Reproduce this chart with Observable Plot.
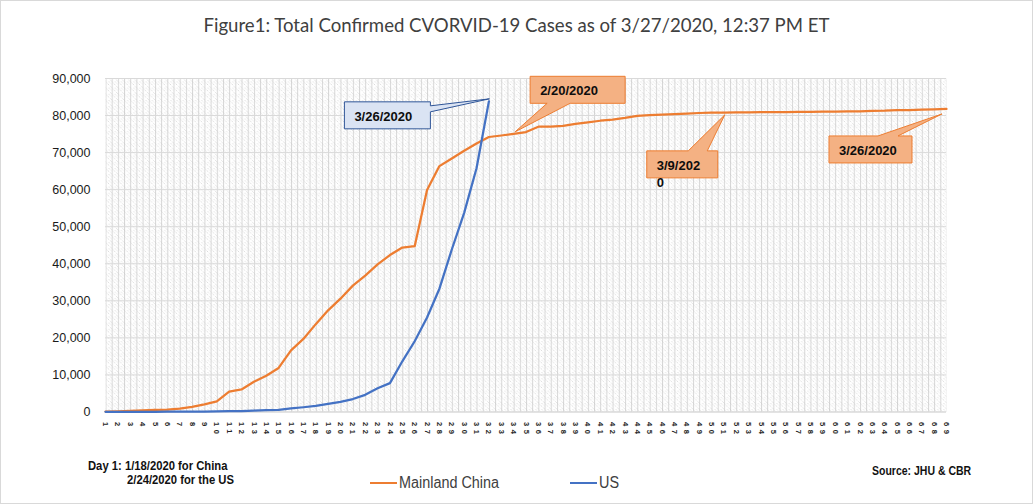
<!DOCTYPE html>
<html>
<head>
<meta charset="utf-8">
<script src="https://cdn.jsdelivr.net/npm/d3@7"></script>
<script src="https://cdn.jsdelivr.net/npm/@observablehq/plot@0.6"></script>
<style>
html,body{margin:0;padding:0;background:#fff;}
#chart{position:relative;width:1033px;height:504px;overflow:hidden;background:#fff;outline:1px solid #d9d9d9;outline-offset:-1px;}
#title{position:absolute;left:0;top:13px;width:1033px;text-align:center;font-family:Lato,"Open Sans",sans-serif;font-size:18.6px;line-height:24px;color:#404040;white-space:nowrap;}
#plot{position:absolute;left:0;top:50px;width:1033px;}
#plot svg{max-width:none;}
.note{position:absolute;font-family:"Liberation Sans Narrow","Liberation Sans",Arial,sans-serif;font-weight:bold;font-size:12.5px;line-height:14px;color:#111;white-space:nowrap;transform-origin:left center;}
.leg{position:absolute;font-family:"Liberation Sans Narrow","Liberation Sans",Arial,sans-serif;font-size:16px;line-height:16px;color:#404040;white-space:nowrap;display:flex;align-items:center;}
.leg i{display:inline-block;width:27px;height:2.5px;margin-right:2px;}
.leg span{display:inline-block;transform:scaleX(0.9);transform-origin:left center;}
</style>
</head>
<body>
<div id="chart">
  <div id="title"></div>
  <div id="plot"></div>
  <div class="note" id="note1" style="left:88px;top:459px;transform:scaleX(0.9)"></div>
  <div class="note" id="note2" style="left:127px;top:473px;transform:scaleX(0.9)"></div>
  <div class="note" id="source" style="left:872px;top:464px;transform:scaleX(0.84)"></div>
  <div class="leg" id="leg0" style="left:370px;top:475px"></div>
  <div class="leg" id="leg1" style="left:570px;top:475px"></div>
</div>
<script>
// ---------- data ----------
const dayLabels = [1,2,3,4,5,6,7,8,9,10,11,12,13,14,15,16,17,18,19,20,21,22,23,24,25,26,27,28,29,30,31,32,33,34,35,36,37,38,39,40,41,42,43,44,45,46,47,48,49,50,51,52,53,54,55,56,57,58,59,60,61,62,63,64,65,66,67,68,69];
const chinaCases = [121,198,291,440,548,643,920,1406,2075,2877,5509,6087,8141,9802,11891,16630,19716,23707,27440,30587,34110,36814,39829,42354,44386,44759,59895,66358,68413,70513,72434,74211,74619,75077,75550,77001,77022,77241,77754,78166,78600,78928,79356,79932,80136,80261,80386,80537,80690,80770,80823,80860,80887,80921,80932,80945,80977,81003,81033,81058,81102,81156,81250,81305,81435,81498,81591,81661,81782];
const usCases = [51,51,57,58,60,68,74,98,118,149,217,262,402,518,583,959,1281,1663,2179,2727,3499,4632,6421,7786,13680,19101,25493,33276,43847,53740,65778,83836];
const yTicks = [0,10000,20000,30000,40000,50000,60000,70000,80000,90000];
const seriesNames = ["Mainland China","US"];
const seriesColors = ["#ed7d31","#4472c4"];
const titleText = "Figure1: Total Confirmed CVORVID-19 Cases as of 3/27/2020, 12:37 PM ET";
const noteLines = ["Day 1: 1/18/2020 for China","2/24/2020  for the US"];
const sourceText = "Source: JHU & CBR";
const calloutSeries = [1,0,0,0];
const calloutDays = [32,34,52,69];
const calloutTexts = [["3/26/2020"],["2/20/2020"],["3/9/202","0"],["3/26/2020"]];

// ---------- layout of callouts (pixel offsets from their data point) ----------
const calloutLayout = [
  {side:"right",  tip:[1,-2],    box:[-144,1,86,27],   base:[5,11],       fill:"#dae3f3", stroke:"#2f5597"},
  {side:"bottom", tip:[2,-1.5],  box:[17,-57,95,27],   base:[34,57],      fill:"#f4b183", stroke:"#ed7d31"},
  {side:"top",    tip:[-11,3],   box:[-89,39,71,27],   base:[-47.5,-28.5],fill:"#f4b183", stroke:"#ed7d31"},
  {side:"top",    tip:[-4,5.5],  box:[-117,27.5,83,27],base:[-68,-48],    fill:"#f4b183", stroke:"#ed7d31"}
];

const seriesData = [chinaCases, usCases];
const tables = seriesData.map((arr, s) => arr.map((v, i) => ({day: dayLabels[i], cases: v, series: seriesNames[s]})));

function calloutMark(k) {
  return (index, scales) => {
    const L = calloutLayout[k];
    const ax = scales.x(calloutDays[k]);
    const ay = scales.y(seriesData[calloutSeries[k]][calloutDays[k] - 1]);
    const tx = ax + L.tip[0], ty = ay + L.tip[1];
    const x0 = ax + L.box[0], y0 = ay + L.box[1], x1 = x0 + L.box[2], y1 = y0 + L.box[3];
    let pts;
    if (L.side === "right") pts = [[x0,y0],[x1,y0],[x1,ay+L.base[0]],[tx,ty],[x1,ay+L.base[1]],[x1,y1],[x0,y1]];
    else if (L.side === "top") pts = [[x0,y0],[ax+L.base[0],y0],[tx,ty],[ax+L.base[1],y0],[x1,y0],[x1,y1],[x0,y1]];
    else pts = [[x0,y0],[x1,y0],[x1,y1],[ax+L.base[1],y1],[tx,ty],[ax+L.base[0],y1],[x0,y1]];
    const g = d3.create("svg:g");
    g.append("path").attr("d", "M" + pts.map(p => p.join(",")).join("L") + "Z")
      .attr("fill", L.fill).attr("stroke", L.stroke).attr("stroke-width", 1);
    calloutTexts[k].forEach((t, j) => {
      g.append("text").attr("x", x0 + 10).attr("y", y0 + 19 + j * 17)
        .attr("text-anchor", "start")
        .attr("font-family", "Liberation Sans, Arial, sans-serif").attr("font-weight", "bold")
        .attr("font-size", 13).attr("fill", "#0d0d0d").text(t);
    });
    return g.node();
  };
}

const svg = Plot.plot({
  width: 1033,
  height: 400,
  marginLeft: 105,
  marginRight: 87,
  marginTop: 28,
  marginBottom: 38.5,
  style: {fontFamily: "Liberation Sans, Arial, sans-serif", fontSize: "12px", color: "#262626", background: "transparent", overflow: "visible"},
  x: {type: "point", domain: dayLabels, padding: 0, round: false},
  y: {domain: [0, 90000]},
  marks: [
    Plot.frame({fill: "url(#hatch)", stroke: "none"}),
    Plot.gridY(yTicks, {stroke: "#d9d9d9", strokeOpacity: 1, strokeWidth: 1}),
    Plot.ruleY([0], {stroke: "#d9d9d9"}),
    Plot.axisY(yTicks, {tickSize: 0, tickPadding: 15, fontSize: 12.5, label: null, tickFormat: d3.format(","), color: "#1a1a1a"}),
    Plot.axisX(dayLabels, {tickSize: 0, tickPadding: 10, tickRotate: 90, fontSize: 7.5, fontWeight: "bold", label: null, color: "#262626"}),
    Plot.line(tables[0], {x: "day", y: "cases", stroke: seriesColors[0], strokeWidth: 2.25}),
    Plot.line(tables[1], {x: "day", y: "cases", stroke: seriesColors[1], strokeWidth: 2.25}),
    calloutMark(0), calloutMark(1), calloutMark(2), calloutMark(3)
  ]
});

// hatch pattern for the plot area
const defs = d3.select(svg).insert("defs", ":first-child");
const pat = defs.append("pattern").attr("id", "hatch").attr("patternUnits", "userSpaceOnUse")
  .attr("width", 6.184).attr("height", 6.184).attr("patternTransform", "translate(105,0)");
pat.append("rect").attr("width", 6.184).attr("height", 6.184).attr("fill", "#ffffff");
pat.append("path").attr("d", "M0.5,0V6.184").attr("stroke", "#d6d6d6").attr("stroke-width", 1);
pat.append("path").attr("d", "M0,0L6.184,6.184M-3.092,3.092L0,6.184M3.092,0L6.184,3.092").attr("stroke", "#cccccc").attr("stroke-width", 0.8).attr("stroke-dasharray", "1,1");

d3.select(svg).selectAll('g[aria-label="x-axis tick label"] text').style("letter-spacing", "3.5px");

document.getElementById("plot").appendChild(svg);
document.getElementById("title").textContent = titleText;
document.getElementById("note1").textContent = noteLines[0];
document.getElementById("note2").textContent = noteLines[1];
document.getElementById("source").textContent = sourceText;
seriesNames.forEach((n, i) => {
  const el = document.getElementById("leg" + i);
  const sw = document.createElement("i");
  sw.style.background = seriesColors[i];
  el.appendChild(sw);
  const sp = document.createElement("span");
  sp.textContent = n;
  el.appendChild(sp);
});
</script>
</body>
</html>
